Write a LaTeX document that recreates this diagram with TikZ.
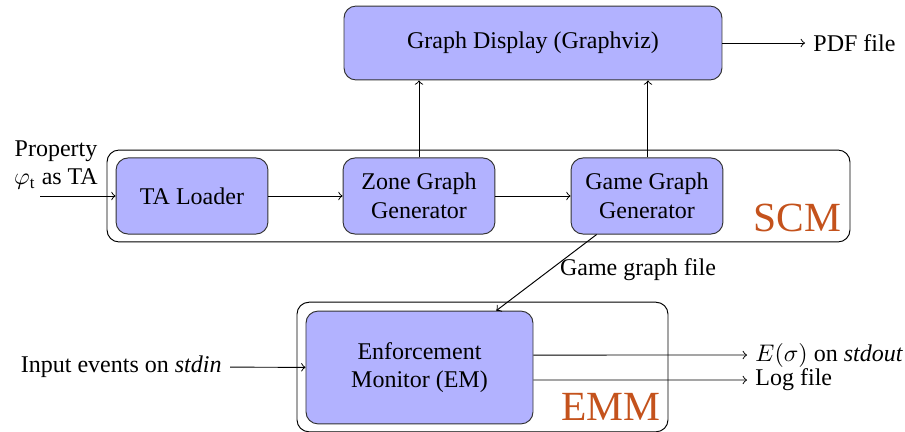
\documentclass[tikz,border=0pt]{standalone}
\usepackage{amsmath}
\usepackage{fontspec}
\setmainfont{LiberationSerif}[Extension=.ttf, UprightFont=*-Regular, ItalicFont=*-Italic, BoldFont=*-Bold, BoldItalicFont=*-BoldItalic]
\usepackage{tikz}

\definecolor{modorange}{RGB}{196,82,28}

\begin{document}
\begin{tikzpicture}[x=0.4167pt, y=-0.4167pt, font=\normalsize]
        \useasboundingbox (0,0) rectangle (905,431);
        % containers
        \node(100) at (478.5,196) [rectangle, rounded corners=5pt, draw=black, minimum width=309.6pt, minimum height=38.3pt] {};
        \node(200) at (482.5,367) [rectangle, rounded corners=5pt, draw=black, minimum width=154.6pt, minimum height=54pt] {};
        \node(101) at (842,232) [anchor=south east, inner sep=0pt, font=\LARGE, text=modorange] {SCM};
        \node(201) at (661,421) [anchor=south east, inner sep=0pt, font=\LARGE, text=modorange] {EMM};
        % SCM
        \node(111) at (192,196) [rectangle, rounded corners=5pt, draw=black!80, fill=blue!30, minimum width=63.3pt, minimum height=31.7pt] {TA Loader};
        \node(112) at (419,196) [rectangle, rounded corners=5pt, draw=black!80, fill=blue!30, minimum width=63.3pt, minimum height=31.7pt, align=center] {Zone Graph\\Generator};
        \node(113) at (647,196) [rectangle, rounded corners=5pt, draw=black!80, fill=blue!30, minimum width=63.3pt, minimum height=31.7pt, align=center] {Game Graph\\Generator};
        \node(121) at (533,43) [rectangle, rounded corners=5pt, draw=black!80, fill=blue!30, minimum width=157.5pt, minimum height=30.8pt] {Graph Display (Graphviz)};
        \node(122) at (805,43) [anchor=west] {PDF file};
        \node(102) at (56,165) [align=center] {Property\\$\varphi_{\mathrm{t}}$ as TA};
        \coordinate(103) at (40,196);
        \draw [->] (103) -- (111);
        \draw [->] (111) -- (112);
        \draw [->] (112) -- (113);
        \draw [->] (112.north) -- (112.north |- 121.south);
        \draw [->] ([xshift=0.4pt]113.north) -- ([xshift=0.4pt]113.north |- 121.south);
        \draw [->] (121) -- (122);
        % EMM
        \node(211) at (419.5,367.5) [rectangle, rounded corners=5pt, draw=black!80, fill=blue!30, minimum width=94.6pt, minimum height=47pt, align=center] {Enforcement\\Monitor (EM)};
        \node(212) at (638,270) {Game graph file};
        \draw [->] ([xshift=-21pt]113.south) -- ([xshift=32pt]211.north);
        \node(221) at (230,367) [anchor=east] {Input events on \textit{stdin}};
        \draw [->] (221) -- (211);
        \node(231) at (747,355) [anchor=west] {$E(\sigma)$ on \textit{stdout}};
        \node(232) at (747,380) [anchor=west] {Log file};
        \draw [->] ([yshift=5.2pt]211.east) -- (231.west);
        \draw [->] ([yshift=-5.2pt]211.east) -- (232.west);
    \end{tikzpicture}
\end{document}
